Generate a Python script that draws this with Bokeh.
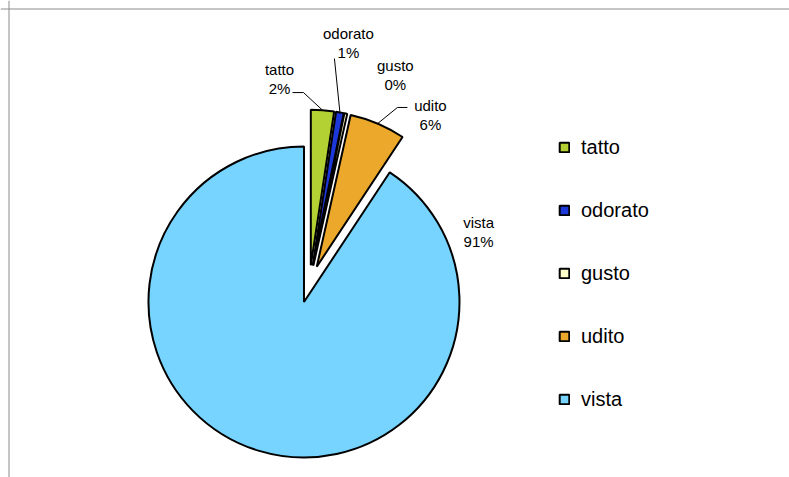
import math
from bokeh.plotting import figure
from bokeh.models import ColumnDataSource, Range1d, Span, Legend, LegendItem
from bokeh.core.properties import value
from bokeh.embed import file_html
from bokeh.resources import INLINE

# ---- data ----
names = ["tatto", "odorato", "gusto", "udito", "vista"]
shares = [2.4, 0.8, 0.3, 5.8, 90.7]
colors = ["#B4D134", "#1C38D8", "#FFFFCC", "#EBA82B", "#76D4FE"]

# ---- layout constants (px-scale data units) ----
W, H = 789, 477
R = 155.5          # pie radius
EXPLODE = 18.8     # explosion distance of every slice
CX, CY = 308.9, 283.5   # pie centre measured from top-left of canvas
FONT = "Liberation Sans"

# label block placement: (angle clockwise from 12 o'clock, distance from centre)
label_polar = [(-8.3, 207.1), (9.2, 244.1), (22.4, 225.6), (35.6, 207.9), (72.9, 177.0)]
# leader line: (elbow offset, end offset) relative to label centre, or None
leaders = [((24, -13.5), (13, -13.5)),
           ((-14, -15.5), (-14, -15.5)),
           None,
           ((-33, 7.5), (-23, 7.5)),
           None]

total = sum(shares)
c0, c1, mids = [], [], []
acc = 0.0
for v in shares:
    c0.append(acc / total)
    acc += v
    c1.append(acc / total)
for a, b in zip(c0, c1):
    mids.append(math.pi * (a + b))   # clockwise from top (radians)

src = ColumnDataSource(dict(
    name=names,
    x=[EXPLODE * math.sin(m) for m in mids],
    y=[EXPLODE * math.cos(m) for m in mids],
    start=[math.pi / 2 - 2 * math.pi * a for a in c0],
    end=[math.pi / 2 - 2 * math.pi * b for b in c1],
    color=colors,
))

p = figure(width=W, height=H, output_backend="svg", toolbar_location=None,
           x_range=Range1d(-CX, W - CX), y_range=Range1d(CY - H, CY),
           x_axis_location=None, y_axis_location=None, min_border=0)
p.grid.visible = False
p.outline_line_color = None
p.background_fill_color = "white"

# chart-area border (top and left edges)
p.add_layout(Span(location=-(CX - 8.5), dimension="height", line_color="#8C8C8C", line_width=1))
p.add_layout(Span(location=CY - 8.5, dimension="width", line_color="#8C8C8C", line_width=1))

wr = p.wedge(x="x", y="y", radius=R, start_angle="start", end_angle="end",
             direction="clock", fill_color="color", line_color="black",
             line_width=2, source=src)

# labels
lx, ly, pct = [], [], []
for (ang, dist), v in zip(label_polar, shares):
    a = math.radians(ang)
    lx.append(dist * math.sin(a))
    ly.append(dist * math.cos(a))
    pct.append(f"{round(v / total * 100)}%")
lsrc = ColumnDataSource(dict(x=lx, y=ly, name=names, pct=pct))
p.text(x="x", y="y", text="name", source=lsrc, text_font=value(FONT),
       text_font_size="15px", text_align="center", text_baseline="middle",
       y_offset=-9.5, text_color="black")
p.text(x="x", y="y", text="pct", source=lsrc, text_font=value(FONT),
       text_font_size="15px", text_align="center", text_baseline="middle",
       y_offset=9.5, text_color="black")

# leader lines
xs, ys = [], []
for i, ld in enumerate(leaders):
    if ld is None:
        continue
    m = mids[i]
    sx = src.data["x"][i] + R * math.sin(m)
    sy = src.data["y"][i] + R * math.cos(m)
    (ex, ey), (fx, fy) = ld
    xs.append([sx, lx[i] + ex, lx[i] + fx])
    ys.append([sy, ly[i] + ey, ly[i] + fy])
p.multi_line(xs=xs, ys=ys, line_color="black", line_width=1)

legend = Legend(items=[LegendItem(label=n, renderers=[wr], index=i) for i, n in enumerate(names)],
                location=(558, 66), orientation="vertical",
                label_text_font=FONT, label_text_font_size="20px",
                label_text_color="black",
                glyph_width=12, glyph_height=12, label_standoff=11,
                label_height=24, spacing=39, padding=0, margin=0,
                border_line_color=None, background_fill_alpha=0)
p.add_layout(legend)

open("out.html", "w").write(file_html(p, INLINE))
